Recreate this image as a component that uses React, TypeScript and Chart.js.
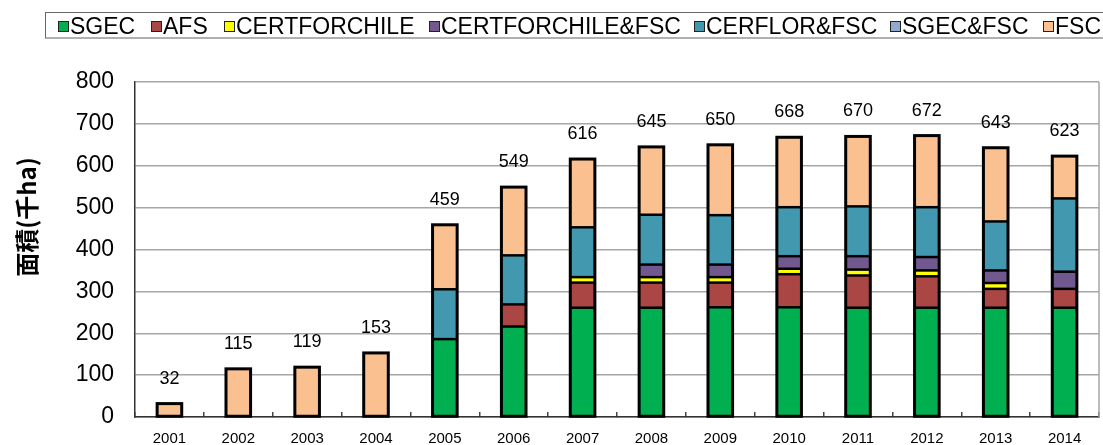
import React, { useEffect, useRef } from "react";
import { Chart, registerables } from "chart.js";

Chart.register(...registerables);

// ---- Data (unit: 千ha) ----
const years = ["2001", "2002", "2003", "2004", "2005", "2006", "2007", "2008", "2009", "2010", "2011", "2012", "2013", "2014"];
const sgec = [0, 0, 0, 0, 186, 216, 261, 261, 262, 262, 261, 261, 261, 261];
const afs = [0, 0, 0, 0, 0, 53, 60, 60, 59, 79, 77, 75, 45, 45];
const certforchile = [0, 0, 0, 0, 0, 0, 13, 13, 13, 13, 14, 14, 14, 0];
const certforchileFsc = [0, 0, 0, 0, 0, 0, 0, 30, 30, 30, 32, 32, 30, 41];
const cerflorFsc = [0, 0, 0, 0, 119, 117, 119, 119, 118, 117, 119, 119, 117, 175];
const sgecFsc = [0, 0, 0, 0, 0, 0, 0, 0, 0, 0, 0, 0, 0, 0];
const fsc = [32, 115, 119, 153, 154, 163, 163, 162, 168, 167, 167, 171, 176, 101];
const totals = [32, 115, 119, 153, 459, 549, 616, 645, 650, 668, 670, 672, 643, 623];

const seriesNames = ["SGEC", "AFS", "CERTFORCHILE", "CERTFORCHILE&FSC", "CERFLOR&FSC", "SGEC&FSC", "FSC"];
const seriesData = [sgec, afs, certforchile, certforchileFsc, cerflorFsc, sgecFsc, fsc];
const seriesColors = ["#00b050", "#aa4643", "#ffff00", "#71588f", "#4198af", "#93a9cf", "#fac090"];

const yMin = 0;
const yMax = 800;
const yStep = 100;
const yTitle = "面積(千ha)";

const FONT = '"Liberation Sans", Arial, sans-serif';

// legend marker x positions (layout)
const legendX = [58, 151, 224, 429, 694, 890, 1043];

const decorPlugin = {
  id: "decor",
  afterDatasetsDraw(chart: any) {
    const { ctx, chartArea: ca, scales } = chart;
    ctx.save();
    // right border of plot area
    ctx.strokeStyle = "#a6a6a6";
    ctx.lineWidth = 1.5;
    ctx.beginPath();
    ctx.moveTo(ca.right, ca.top);
    ctx.lineTo(ca.right, ca.bottom);
    ctx.stroke();

    for (let i = 0; i < years.length; i++) {
      let top = Infinity;
      let bottom = -Infinity;
      let x = 0;
      let w = 0;
      const segTops: number[] = [];
      chart.data.datasets.forEach((ds: any, di: number) => {
        const v = ds.data[i];
        if (!v) return;
        const el = chart.getDatasetMeta(di).data[i];
        const p = el.getProps(["x", "y", "base", "width"], true);
        segTops.push(p.y);
        top = Math.min(top, p.y);
        bottom = Math.max(bottom, p.base);
        x = p.x;
        w = p.width;
      });
      if (top === Infinity) continue;
      ctx.strokeStyle = "#000";
      // separators between stacked segments
      ctx.lineWidth = 2.5;
      segTops.forEach((ty) => {
        if (ty <= top + 0.01) return;
        ctx.beginPath();
        ctx.moveTo(x - w / 2, ty);
        ctx.lineTo(x + w / 2, ty);
        ctx.stroke();
      });
      // outline of the whole stack
      ctx.lineWidth = 3;
      ctx.strokeRect(x - w / 2, top, w, bottom - top);

      ctx.fillStyle = "#000";
      ctx.font = `18px ${FONT}`;
      ctx.textAlign = "center";
      ctx.textBaseline = "alphabetic";
      ctx.fillText(String(totals[i]), x, scales.y.getPixelForValue(totals[i]) - 20);
    }

    // y-axis title
    ctx.translate(26.5, 217);
    ctx.rotate(-Math.PI / 2);
    ctx.fillStyle = "#000";
    ctx.font = 'bold 24px "Noto Sans CJK JP", sans-serif';
    ctx.textAlign = "center";
    ctx.textBaseline = "middle";
    ctx.fillText(yTitle, 0, 0);
    ctx.restore();
  },
};

export default function App() {
  const canvasRef = useRef<HTMLCanvasElement | null>(null);

  useEffect(() => {
    if (!canvasRef.current) return;
    const chart = new Chart(canvasRef.current, {
      type: "bar",
      data: {
        labels: years,
        datasets: seriesNames.map((name, i) => ({
          label: name,
          data: seriesData[i],
          backgroundColor: seriesColors[i],
          borderWidth: 0,
          inflateAmount: 0,
          barPercentage: 0.357,
          categoryPercentage: 1,
        })),
      },
      options: {
        responsive: false,
        animation: false,
        devicePixelRatio: 1,
        layout: { padding: { top: 82, right: 4, left: 0, bottom: 0 } },
        plugins: {
          legend: { display: false },
          tooltip: { enabled: false },
          title: { display: false },
        },
        scales: {
          x: {
            stacked: true,
            offset: true,
            grid: {
              offset: true,
              drawOnChartArea: false,
              drawTicks: true,
              tickLength: -5,
              color: "#444",
              lineWidth: 1.5,
            },
            border: { display: true, color: "#333", width: 1.5 },
            ticks: {
              color: "#000",
              font: { size: 15, family: FONT },
              padding: 18,
              maxRotation: 0,
              autoSkip: false,
            },
            afterFit: (s: any) => {
              s.height = 28;
              s.paddingLeft = 0;
              s.paddingRight = 0;
            },
          },
          y: {
            stacked: true,
            min: yMin,
            max: yMax,
            grid: { color: "#a6a6a6", lineWidth: 1.5, drawTicks: false },
            border: { display: true, color: "#333", width: 1.5 },
            ticks: {
              stepSize: yStep,
              color: "#000",
              font: { size: 23, family: FONT },
              padding: 21,
            },
            afterFit: (s: any) => {
              s.width = 135;
              s.paddingTop = 0;
              s.paddingBottom = 0;
            },
          },
        },
      },
      plugins: [decorPlugin],
    });
    return () => chart.destroy();
  }, []);

  return (
    <div
      style={{
        position: "absolute",
        left: 0,
        top: 0,
        width: 1103,
        height: 445,
        overflow: "hidden",
        background: "#fff",
      }}
    >
      <canvas ref={canvasRef} width={1103} height={445} style={{ display: "block" }} />
      <div
        style={{
          position: "absolute",
          left: 45,
          top: 12,
          width: 1103,
          height: 27,
          boxSizing: "border-box",
          borderTop: "1.5px solid #666",
          borderLeft: "1.5px solid #666",
          borderBottom: "2px solid #b0b0b0",
        }}
      />
      {seriesNames.map((name, i) => (
        <React.Fragment key={name}>
          <div
            style={{
              position: "absolute",
              left: legendX[i],
              top: 21,
              width: 11,
              height: 11,
              boxSizing: "border-box",
              background: seriesColors[i],
              border: "1.5px solid #222",
            }}
          />
          <div
            style={{
              position: "absolute",
              left: legendX[i] + 12,
              top: 15,
              font: `23px ${FONT}`,
              lineHeight: "23px",
              color: "#000",
              whiteSpace: "nowrap",
            }}
          >
            {name}
          </div>
        </React.Fragment>
      ))}
    </div>
  );
}
